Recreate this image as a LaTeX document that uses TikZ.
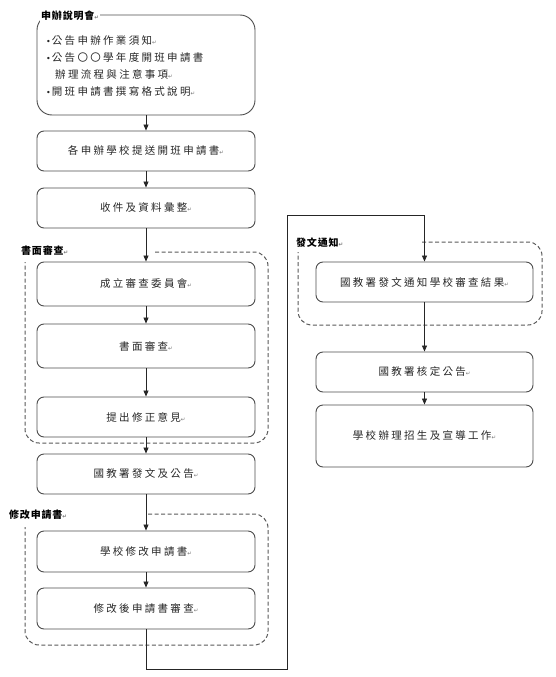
\documentclass[tikz,border=0pt]{standalone}
\usepackage{fontspec}
\newfontfamily\cjk[LetterSpace=22]{Noto Sans CJK TC}
\newfontfamily\cjkt[LetterSpace=8]{Noto Sans CJK TC}
\newfontfamily\sym{DejaVu Sans}
\usetikzlibrary{arrows.meta}
\newcommand{\parmark}{{\sym\fontsize{5.5}{5}\selectfont\textcolor{black!55}{↵}}}
\newcommand{\bul}{{\sym\fontsize{8}{8}\selectfont •}\hspace{1pt}}
\tikzset{
  box/.style={draw=black!70, line width=0.9pt, rounded corners=7pt, minimum width=218pt,
    minimum height=40pt, inner sep=0pt, font=\cjk\fontsize{10.5}{12}\selectfont, text=black!85},
  arr/.style={draw=black!85, line width=0.8pt, -{Triangle[length=6pt,width=5pt]}},
  grp/.style={draw=black!65, dash pattern=on 4pt off 2.5pt, line width=1pt, rounded corners=14pt},
  ttl/.style={font=\cjkt\bfseries\fontsize{10}{12}\selectfont, inner sep=1pt, fill=white, anchor=west, text=black}
}
\begin{document}
\begin{tikzpicture}[x=1pt,y=-1pt]
\useasboundingbox (0,0) rectangle (556,677);
% top box
\node[box, minimum height=100pt, rounded corners=15pt] (b1) at (146,65) {};
\node[ttl] (t1) at (40,16) {申辦說明會\parmark};
\node[anchor=north west, align=left, inner sep=0pt, text=black!85,
  font=\cjk\fontsize{10.5}{17}\selectfont] (l1) at (46,35)
  {\bul 公告申辦作業須知\parmark\\
   \bul 公告〇〇學年度開班申請書\\
   \hspace*{9pt}辦理流程與注意事項\parmark\\
   \bul 開班申請書撰寫格式說明\parmark};
% left column
\node[box] (b2) at (146,151) {各申辦學校提送開班申請書\parmark};
\node[box] (b3) at (146,208) {收件及資料彙整\parmark};
\node[box, minimum height=44pt] (b4) at (146,284) {成立審查委員會\parmark};
\node[box, minimum height=44pt] (b5) at (146,346) {書面審查\parmark};
\node[box] (b6) at (146,417) {提出修正意見\parmark};
\node[box] (b7) at (146,474) {國教署發文及公告\parmark};
\node[box, minimum height=41pt] (b8) at (146,551.5) {學校修改申請書\parmark};
\node[box, minimum height=41pt] (b9) at (146,608.5) {修改後申請書審查\parmark};
% right column
\node[box, minimum width=217pt] (b10) at (424.5,282) {國教署發文通知學校審查結果\parmark};
\node[box, minimum width=217pt] (b11) at (424.5,372) {國教署核定公告\parmark};
\node[box, minimum width=217pt, minimum height=62pt] (b12) at (424.5,436) {學校辦理招生及宣導工作\parmark};
% groups
\draw[grp] (155,252) -| (268,443) -| (25,262);
\draw[grp] (148,514) -| (268,645) -| (25,527);
\draw[grp] (422,242) -| (542,325) -| (298,252);
\node[ttl] (g1) at (20,251) {書面審查\parmark};
\node[ttl] (g2) at (8,515) {修改申請書\parmark};
\node[ttl] (g3) at (295,243) {發文通知\parmark};
% connectors
\draw[arr] (b1.south) -- (b2.north);
\draw[arr] (b2.south) -- (b3.north);
\draw[arr] (b3.south) -- (b4.north);
\draw[arr] (b4.south) -- (b5.north);
\draw[arr] (b5.south) -- (b6.north);
\draw[arr] (b6.south) -- (b7.north);
\draw[arr] (b7.south) -- (b8.north);
\draw[arr] (b8.south) -- (b9.north);
\coordinate (c1) at (287,669);
\coordinate (c2) at (287,215);
\draw[arr] (b9.south) |- (c1) -- (c2) -| (b10.north);
\draw[arr] (b10.south) -- (b11.north);
\draw[arr] (b11.south) -- (b12.north);
\end{tikzpicture}
\end{document}
